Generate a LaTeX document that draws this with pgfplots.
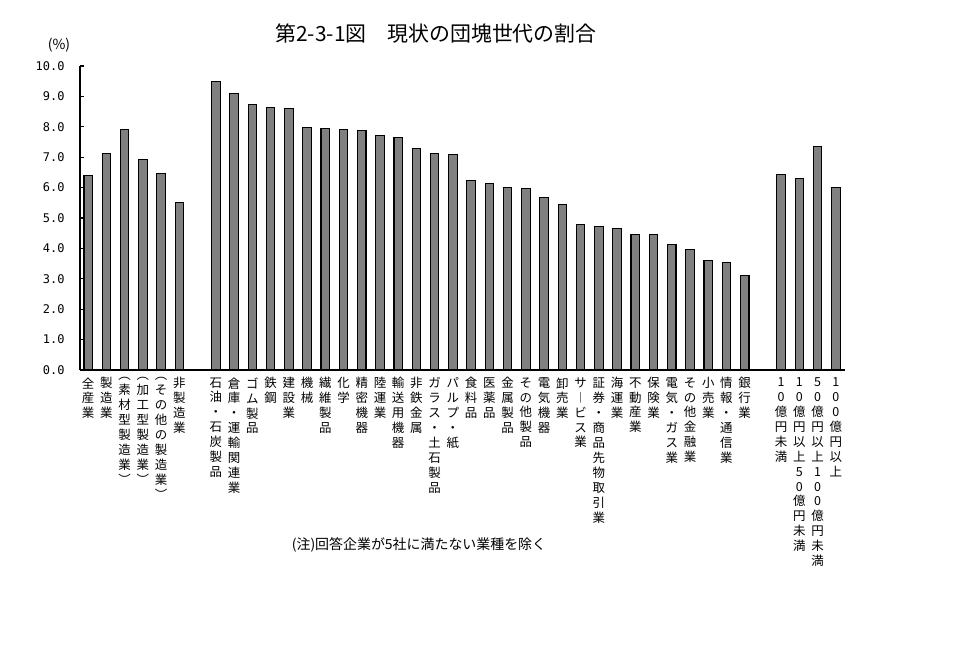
\documentclass[border=0pt]{standalone}
\usepackage{fontspec}
\setmainfont{Noto Sans CJK JP}
\newfontfamily\monofont{DejaVu Sans Mono}
\usepackage{pgfplots}
\pgfplotsset{compat=1.18}
\begin{document}
\begin{tikzpicture}
\useasboundingbox (0bp,0bp) rectangle (973bp,666bp);
\node[font=\fontsize{21}{21}\selectfont] at (436bp,632bp) {第2-3-1図　現状の団塊世代の割合};
\node[font=\fontsize{14}{14}\selectfont] at (59bp,621bp) {(\%)};
\node[font=\fontsize{14}{14}\selectfont] at (419bp,121bp) {(注)回答企業が5社に満たない業種を除く};
\begin{axis}[
  at={(80bp,296bp)}, anchor=south west,
  scale only axis, width=765bp, height=304bp,
  xmin=-0.45, xmax=41.5, ymin=0, ymax=10,
  axis x line=bottom, axis y line=left,
  axis line style={-, line width=1.3bp},
  ytick={0,1,...,10}, tick align=inside, major tick length=4bp,
  ytick style={line width=1.1bp, black},
  yticklabel={\pgfmathprintnumber[fixed,fixed zerofill,precision=1]{\tick}},
  /pgf/number format/assume math mode=true,
  yticklabel style={font=\monofont\fontsize{12}{12}\selectfont, xshift=-12bp},
  xtick={0,1,2,3,4,5,7,8,9,10,11,12,13,14,15,16,17,18,19,20,21,22,23,24,25,26,27,28,29,30,31,32,33,34,35,36,38,39,40,41},
  xtick style={draw=none},
  xticklabel style={font=\fontsize{12.5}{15}\selectfont, align=center, anchor=north, yshift=-4bp},
  xticklabels={
    {全\\産\\業},
    {製\\造\\業},
    {︵\\素\\材\\型\\製\\造\\業\\︶},
    {︵\\加\\工\\型\\製\\造\\業\\︶},
    {︵\\そ\\の\\他\\の\\製\\造\\業\\︶},
    {非\\製\\造\\業},
    {石\\油\\・\\石\\炭\\製\\品},
    {倉\\庫\\・\\運\\輸\\関\\連\\業},
    {ゴ\\ム\\製\\品},
    {鉄\\鋼},
    {建\\設\\業},
    {機\\械},
    {繊\\維\\製\\品},
    {化\\学},
    {精\\密\\機\\器},
    {陸\\運\\業},
    {輸\\送\\用\\機\\器},
    {非\\鉄\\金\\属},
    {ガ\\ラ\\ス\\・\\土\\石\\製\\品},
    {パ\\ル\\プ\\・\\紙},
    {食\\料\\品},
    {医\\薬\\品},
    {金\\属\\製\\品},
    {そ\\の\\他\\製\\品},
    {電\\気\\機\\器},
    {卸\\売\\業},
    {サ\\︱\\ビ\\ス\\業},
    {証\\券\\・\\商\\品\\先\\物\\取\\引\\業},
    {海\\運\\業},
    {不\\動\\産\\業},
    {保\\険\\業},
    {電\\気\\・\\ガ\\ス\\業},
    {そ\\の\\他\\金\\融\\業},
    {小\\売\\業},
    {情\\報\\・\\通\\信\\業},
    {銀\\行\\業},
    {1\\0\\億\\円\\未\\満},
    {1\\0\\億\\円\\以\\上\\5\\0\\億\\円\\未\\満},
    {5\\0\\億\\円\\以\\上\\1\\0\\0\\億\\円\\未\\満},
    {1\\0\\0\\億\\円\\以\\上}
  },
  clip=false,
]
\addplot[ybar, bar width=8.5bp, draw=black, line width=1.1bp, fill=black!50] coordinates {
  (0,6.40) (1,7.13) (2,7.92) (3,6.93) (4,6.47) (5,5.52)
  (7,9.50) (8,9.10) (9,8.74) (10,8.64) (11,8.61) (12,7.98) (13,7.95) (14,7.92)
  (15,7.88) (16,7.72) (17,7.65) (18,7.29) (19,7.13) (20,7.10) (21,6.24) (22,6.14)
  (23,6.01) (24,5.98) (25,5.68) (26,5.45) (27,4.79) (28,4.73) (29,4.66) (30,4.46)
  (31,4.46) (32,4.13) (33,3.97) (34,3.61) (35,3.54) (36,3.11)
  (38,6.44) (39,6.31) (40,7.36) (41,6.01)
};
\end{axis}
\end{tikzpicture}
\end{document}
